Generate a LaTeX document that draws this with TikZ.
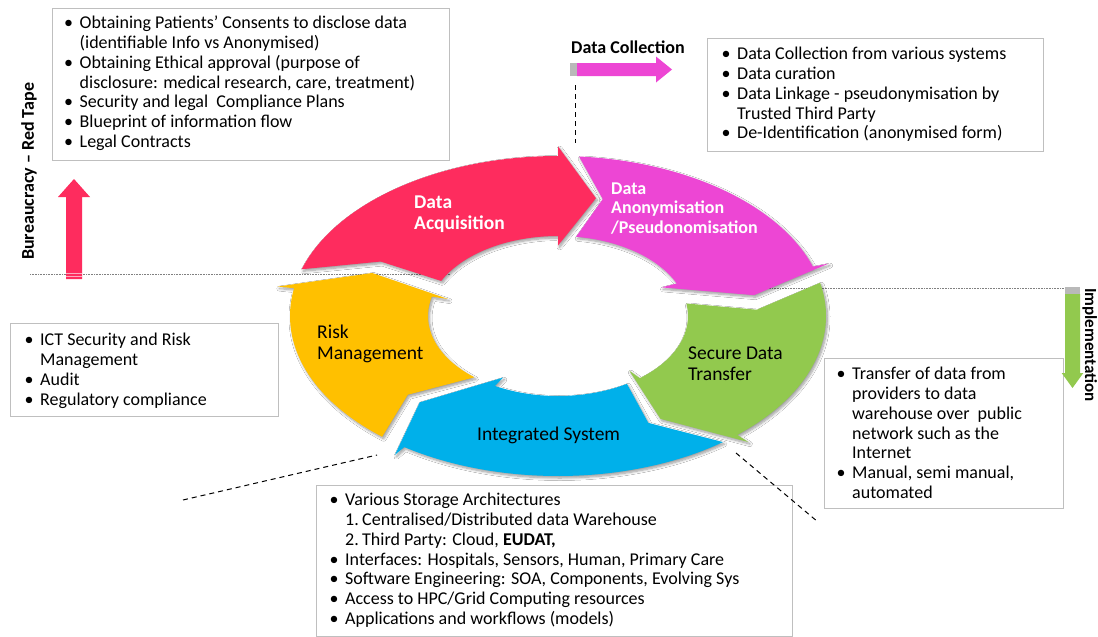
\documentclass[tikz,border=0pt]{standalone}
\usepackage{fontspec}
\setmainfont{Carlito}
\usetikzlibrary{shadows.blur}

\definecolor{acqred}{RGB}{254,44,94}
\definecolor{anonpink}{RGB}{237,70,212}
\definecolor{xfergreen}{RGB}{146,201,78}
\definecolor{integblue}{RGB}{0,176,234}
\definecolor{riskyellow}{RGB}{255,192,0}
\definecolor{boxgray}{RGB}{191,191,191}
\definecolor{capgray}{RGB}{185,185,185}

% bullet and hanging indent for the lists
\newcommand\bul{\makebox[15.5pt][l]{•}}
\newcommand\ind{\hspace*{15.5pt}}

% one segment of the ring: centre (558,-316), inner radii 130/80, outer 268/160
% #1 name, #2 colour, #3 tail angle (outer), #4 tail angle (inner),
% #5 notch angle, #6 head angle (outer), #7 head angle (inner), #8 tip angle
\newcommand\cyclearrow[8]{%
  \path ({558+268*cos(#3)},{-316-160*sin(#3)}) coordinate (#1-to)
        ({558+284.5*cos(#6)},{-316-169.6*sin(#6)}) coordinate (#1-wo)
        ({558+199*cos(#8)},{-316-120*sin(#8)}) coordinate (#1-tip)
        ({558+113.4*cos(#7)},{-316-70.4*sin(#7)}) coordinate (#1-wi)
        ({558+130*cos(#7)},{-316-80*sin(#7)}) coordinate (#1-hi)
        ({558+199*cos(#5)},{-316-120*sin(#5)}) coordinate (#1-notch);
  \fill[#2, ringshadow] (#1-to)
     arc[start angle={-(#3)}, end angle={-(#6)}, x radius=268pt, y radius=160pt]
     -- (#1-wo) -- (#1-tip) -- (#1-wi) -- (#1-hi)
     arc[start angle={-(#7)}, end angle={-(#4)}, x radius=130pt, y radius=80pt]
     -- (#1-notch) -- cycle;
}

\begin{document}
\begin{tikzpicture}[x=1pt,y=1pt,
  ringshadow/.style={blur shadow={shadow xshift=1.5pt, shadow yshift=-2pt,
      shadow blur radius=2.5pt, shadow blur steps=8, shadow opacity=40}},
  box/.style={draw=boxgray, line width=1.1pt, fill=white, anchor=north west, inner sep=0pt},
  listtext/.style={anchor=north west, inner sep=0pt, align=left,
      font=\fontsize{18}{19.8}\selectfont},
  cyclabel/.style={anchor=north west, inner sep=0pt, align=left,
      font=\fontsize{19.5}{21}\selectfont},
  sidelabel/.style={inner sep=0pt, font=\fontsize{18}{20}\selectfont\bfseries},
  guide/.style={gray, densely dotted, line width=0.6pt},
  leader/.style={black, line width=1pt, dash pattern=on 5pt off 4pt},
  capblock/.style={fill=capgray}]

\fill[white] (0,0) rectangle (1098,-637);
\useasboundingbox (0,0) rectangle (1098,-637);

% level lines
\draw[guide] (30,-274.5) -- (450,-274.5);
\draw[guide] (700,-288.5) -- (1065,-288.5);

% the ring of five arrows
\cyclearrow{acq}{acqred}{197}{206}{207}{270}{270}{281}
\cyclearrow{anon}{anonpink}{274.5}{278}{283}{342}{336}{350}
\cyclearrow{xfer}{xfergreen}{348}{351}{357}{408}{411}{419}
\cyclearrow{integ}{integblue}{52}{58}{63}{125}{119}{134}
\cyclearrow{risk}{riskyellow}{131}{130}{139}{190}{194}{201}

% labels on the ring
\node[cyclabel, text=white, font=\fontsize{19.5}{21}\selectfont\bfseries] (acqlabel)
  at (414,-193.5) {\strut Data\\Acquisition};
\node[cyclabel, text=white, font=\fontsize{18}{19.5}\selectfont\bfseries] (anonlabel)
  at (611,-180.2) {\strut Data\\Anonymisation\\/Pseudonomisation};
\node[cyclabel] (risklabel) at (317,-323.5) {\strut Risk\\Management};
\node[cyclabel, font=\fontsize{19.5}{21.5}\selectfont] (xferlabel)
  at (688,-344.2) {\strut Secure Data\\Transfer};
\node[cyclabel, anchor=base west] (integlabel) at (477,-440.2) {Integrated System};

% bureaucracy side
\node[sidelabel, rotate=90, anchor=base west] (redtape) at (34,-260) {Bureaucracy – Red Tape};
\fill[acqred] (66,-279) -- (66,-197) -- (58,-197) -- (74,-179) -- (90,-197)
  -- (82,-197) -- (82,-279) -- cycle;
\draw[white, opacity=0.6, line width=0.8pt] (66,-273.5) -- (82,-273.5)
  (66,-276.5) -- (82,-276.5);

% data collection marker
\node[sidelabel, anchor=base west] (collectlabel) at (571,-53.8) {Data Collection};
\fill[capblock] (570,-63) rectangle (577,-76);
\fill[anonpink] (577,-63) -- (656,-63) -- (656,-56.5) -- (672,-69.5) -- (656,-82.5)
  -- (656,-76) -- (577,-76) -- cycle;
\coordinate (collecttop) at (575,-85);
\coordinate (collectbot) at (575,-143);
\draw[leader] (collecttop) -- (collectbot);

% implementation marker
\node[sidelabel, rotate=-90, anchor=base west, font=\fontsize{17}{19}\selectfont\bfseries]
  (impl) at (1085,-288) {Implementation};

% list boxes
\node[box, minimum width=397pt, minimum height=152pt] (consentbox) at (52,-8) {};
\node[listtext] (consenttext) at (64,-14.6) {\strut\bul Obtaining Patients’ Consents to disclose data\\
  \ind(identifiable Info vs Anonymised)\\
  \bul Obtaining Ethical approval (purpose of\\
  \ind disclosure: medical research, care, treatment)\\
  \bul Security and legal\ \ Compliance Plans\\
  \bul Blueprint of information flow\\
  \bul Legal Contracts};

\node[box, minimum width=336pt, minimum height=113pt] (collectbox) at (707,-38) {};
\node[listtext] (collecttext) at (721.5,-45.6) {\strut\bul Data Collection from various systems\\
  \bul Data curation\\
  \bul Data Linkage - pseudonymisation by\\
  \ind Trusted Third Party\\
  \bul De-Identification (anonymised form)};

\node[box, minimum width=268pt, minimum height=93pt] (riskbox) at (10,-323) {};
\node[listtext] (risktext) at (24.5,-331.6) {\strut\bul ICT Security and Risk\\
  \ind Management\\
  \bul Audit\\
  \bul Regulatory compliance};

\node[box, minimum width=239pt, minimum height=150pt] (xferbox) at (824,-358) {};
\node[listtext] (xfertext) at (836.5,-365.6) {\strut\bul Transfer of data from\\
  \ind providers to data\\
  \ind warehouse over\ \ public\\
  \ind network such as the\\
  \ind Internet\\
  \bul Manual, semi manual,\\
  \ind automated};

\fill[capblock] (1065,-287) rectangle (1080,-294);
\fill[xfergreen] (1065,-294) -- (1080,-294) -- (1080,-373) -- (1083.3,-373)
  -- (1072.5,-388) -- (1061.7,-373) -- (1065,-373) -- cycle;

\node[box, minimum width=476pt, minimum height=151pt] (integbox) at (316,-485) {};
\node[listtext] (integtext) at (329.5,-491.6) {\strut\bul Various Storage Architectures\\
  \ind\makebox[17pt][l]{1.}Centralised/Distributed data Warehouse\\
  \ind\makebox[17pt][l]{2.}Third Party: Cloud, \textbf{EUDAT,}\\
  \bul Interfaces: Hospitals, Sensors, Human, Primary Care\\
  \bul Software Engineering: SOA, Components, Evolving Sys\\
  \bul Access to HPC/Grid Computing resources\\
  \bul Applications and workflows (models)};

% leaders from the ring towards the boxes
\coordinate (leftfar) at (183,-500);
\coordinate (leftnear) at (377,-455);
\draw[leader] (leftfar) -- (leftnear);
\coordinate (rightnear) at (736,-453);
\coordinate (rightfar) at (818,-522);
\draw[leader] (rightnear) -- (rightfar);

\end{tikzpicture}
\end{document}
